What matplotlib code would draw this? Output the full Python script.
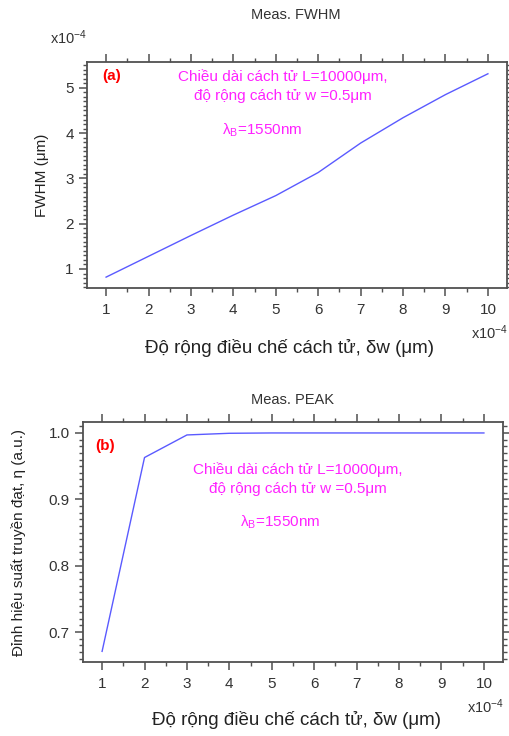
import matplotlib
matplotlib.use("Agg")
import matplotlib.pyplot as plt
from matplotlib.ticker import MultipleLocator

plt.rcParams['font.family'] = ['Liberation Sans', 'DejaVu Sans']
plt.rcParams['mathtext.fontset'] = 'custom'
plt.rcParams['mathtext.rm'] = 'Liberation Sans'
plt.rcParams['mathtext.it'] = 'Liberation Sans:italic'

# data (x in units of 1e-4 um)
dw = [1, 2, 3, 4, 5, 6, 7, 8, 9, 10]
fwhm = [0.82, 1.28, 1.74, 2.19, 2.62, 3.13, 3.78, 4.34, 4.85, 5.31]   # x1e-4 um
peak = [0.671, 0.963, 0.997, 0.9995, 1.0, 1.0, 1.0, 1.0, 1.0, 1.0]
xticks = [1, 2, 3, 4, 5, 6, 7, 8, 9, 10]

W, H = 510, 736
fig = plt.figure(figsize=(W / 100, H / 100), dpi=100)

line_c = '#5a5aff'
mag = '#ff22ff'
spine_c = '#505050'
tick_c = '#333333'


def px(x, y, s, **kw):
    fig.text(x / W, 1 - y / H, s, **kw)


def style(ax):
    for s in ax.spines.values():
        s.set_color(spine_c)
        s.set_linewidth(1.3)
    ax.xaxis.set_major_locator(MultipleLocator(1))
    ax.xaxis.set_minor_locator(MultipleLocator(0.5))
    ax.tick_params(which='both', direction='out', top=True, right=True,
                   colors=spine_c, labelcolor=tick_c, labelsize=11)
    ax.tick_params(which='major', length=6, width=1.1)
    ax.tick_params(which='minor', length=3, width=1.0)
    ax.tick_params(axis='x', labeltop=False, pad=5)
    ax.set_xticks(xticks)


# ---- (a) FWHM
ax1 = fig.add_axes([87 / W, 1 - 288 / H, 420 / W, 226 / H])
ax1.plot(dw, fwhm, color=line_c, lw=1.0)
ax1.set_xlim(0.55, 10.45)
ax1.set_ylim(0.58, 5.57)
ax1.yaxis.set_major_locator(MultipleLocator(1))
ax1.yaxis.set_minor_locator(MultipleLocator(0.1))
style(ax1)
ax1.set_ylabel('FWHM (μm)', fontsize=11, color='#222222', labelpad=12)

px(296, 15, 'Meas. FWHM', ha='center', va='center', fontsize=10.5, color='#333333')
px(50, 38, r'x10$^{-4}$', ha='left', va='center', fontsize=10.5, color='#333333')
px(102, 76, '(a)', ha='left', va='center', fontsize=11, color='red', fontweight='bold')
px(283, 77, 'Chiều dài cách tử L=10000μm,', ha='center', va='center', fontsize=11, color=mag)
px(283, 96, 'độ rộng cách tử w =0.5μm', ha='center', va='center', fontsize=11, color=mag)
px(262, 130, r'λ$_{\mathrm{B}}$=1550nm', ha='center', va='center', fontsize=11, color=mag)
px(490, 333, r'x10$^{-4}$', ha='center', va='center', fontsize=10.5, color='#333333')
px(290, 348, 'Độ rộng điều chế cách tử, δw (μm)', ha='center', va='center',
   fontsize=13.5, color='#222222')

# ---- (b) PEAK
ax2 = fig.add_axes([83 / W, 1 - 662 / H, 420 / W, 240 / H])
ax2.plot(dw, peak, color=line_c, lw=1.0)
ax2.set_xlim(0.55, 10.45)
ax2.set_ylim(0.655, 1.0165)
ax2.yaxis.set_major_locator(MultipleLocator(0.1))
ax2.yaxis.set_minor_locator(MultipleLocator(0.01))
ax2.yaxis.set_major_formatter(matplotlib.ticker.FormatStrFormatter('%.1f'))
style(ax2)
ax2.set_ylabel('Đỉnh hiệu suất truyền đạt, η (a.u.)', fontsize=11, color='#222222',
               labelpad=16)

px(293, 400, 'Meas. PEAK', ha='center', va='center', fontsize=10.5, color='#333333')
px(95, 446, '(b)', ha='left', va='center', fontsize=11, color='red', fontweight='bold')
px(298, 470, 'Chiều dài cách tử L=10000μm,', ha='center', va='center', fontsize=11, color=mag)
px(298, 489, 'độ rộng cách tử w =0.5μm', ha='center', va='center', fontsize=11, color=mag)
px(280, 522, r'λ$_{\mathrm{B}}$=1550nm', ha='center', va='center', fontsize=11, color=mag)
px(486, 707, r'x10$^{-4}$', ha='center', va='center', fontsize=10.5, color='#333333')
px(296, 720, 'Độ rộng điều chế cách tử, δw (μm)', ha='center', va='center',
   fontsize=13.5, color='#222222')

fig.savefig('out.png', dpi=100)
